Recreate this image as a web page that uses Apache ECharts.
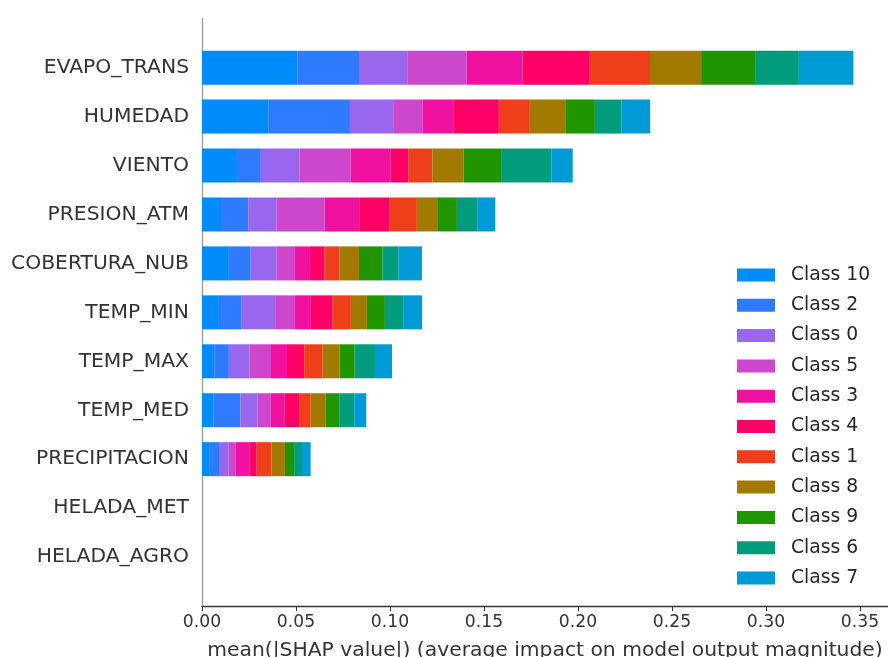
<!DOCTYPE html>
<html>
<head>
<meta charset="utf-8">
<script src="https://cdn.jsdelivr.net/npm/echarts@6/dist/echarts.min.js"></script>
<style>
html,body{margin:0;padding:0;background:#fff;}
#chart{width:888px;height:657px;}
</style>
</head>
<body>
<div id="chart"></div>
<script>
var features = ['EVAPO_TRANS','HUMEDAD','VIENTO','PRESION_ATM','COBERTURA_NUB','TEMP_MIN','TEMP_MAX','TEMP_MED','PRECIPITACION','HELADA_MET','HELADA_AGRO'];
var classNames = ['Class 10','Class 2','Class 0','Class 5','Class 3','Class 4','Class 1','Class 8','Class 9','Class 6','Class 7'];
var classColors = ['#008bfb','#2f7bff','#9966ee','#cc47cc','#f111a0','#ff0066','#ef3e1a','#a37a00','#1f9600','#009c7c','#009ad6'];
var class10 = [0.0509, 0.0355, 0.0186, 0.0101, 0.0143, 0.0090, 0.0065, 0.0060, 0.0042, 0, 0];
var class2  = [0.0326, 0.0432, 0.0127, 0.0145, 0.0116, 0.0121, 0.0078, 0.0145, 0.0053, 0, 0];
var class0  = [0.0260, 0.0234, 0.0207, 0.0151, 0.0138, 0.0182, 0.0110, 0.0091, 0.0047, 0, 0];
var class5  = [0.0313, 0.0152, 0.0271, 0.0255, 0.0097, 0.0101, 0.0114, 0.0070, 0.0038, 0, 0];
var class3  = [0.0297, 0.0165, 0.0212, 0.0188, 0.0080, 0.0085, 0.0085, 0.0074, 0.0073, 0, 0];
var class4  = [0.0358, 0.0241, 0.0096, 0.0158, 0.0078, 0.0116, 0.0092, 0.0080, 0.0038, 0, 0];
var class1  = [0.0320, 0.0165, 0.0127, 0.0145, 0.0080, 0.0097, 0.0098, 0.0058, 0.0078, 0, 0];
var class8  = [0.0272, 0.0192, 0.0165, 0.0108, 0.0103, 0.0085, 0.0090, 0.0080, 0.0072, 0, 0];
var class9  = [0.0287, 0.0154, 0.0204, 0.0105, 0.0125, 0.0096, 0.0080, 0.0072, 0.0049, 0, 0];
var class6  = [0.0233, 0.0142, 0.0263, 0.0108, 0.0085, 0.0097, 0.0108, 0.0080, 0.0042, 0, 0];
var class7  = [0.0290, 0.0152, 0.0114, 0.0096, 0.0125, 0.0101, 0.0091, 0.0064, 0.0046, 0, 0];
var xTicks = [0, 0.05, 0.10, 0.15, 0.20, 0.25, 0.30, 0.35];
var xLabel = 'mean(|SHAP value|) (average impact on model output magnitude)';

var classValues = [class10, class2, class0, class5, class3, class4, class1, class8, class9, class6, class7];
var cats = [''].concat(features).concat(['']);
var FONT = 'DejaVu Sans';

var series = classNames.map(function (name, i) {
  return {
    name: name,
    type: 'bar',
    stack: 'total',
    barWidth: 34,
    itemStyle: { color: classColors[i] },
    emphasis: { disabled: true },
    data: ['-'].concat(classValues[i]).concat(['-'])
  };
});

var chart = echarts.init(document.getElementById('chart'), null, { renderer: 'canvas' });
chart.setOption({
  animation: false,
  backgroundColor: '#fff',
  grid: { left: 202, right: 0, top: 18.7, bottom: 51, containLabel: false, outerBoundsMode: 'none' },
  legend: {
    orient: 'vertical',
    left: 737,
    top: 265,
    padding: 0,
    itemWidth: 38,
    itemHeight: 13,
    itemGap: 10.3,
    icon: 'rect',
    data: classNames,
    textStyle: { fontFamily: FONT, fontSize: 18.75, color: '#262626', lineHeight: 20, padding: [0, 0, 0, 11] }
  },
  xAxis: {
    type: 'value',
    min: 0,
    max: 0.3649,
    interval: 0.05,
    splitLine: { show: false },
    axisLine: { show: true, lineStyle: { color: '#333', width: 1.3 } },
    axisTick: { show: true, length: 5, lineStyle: { color: '#333' } },
    axisLabel: {
      fontFamily: FONT, fontSize: 17.2, color: '#333', margin: 8, showMaxLabel: false,
      formatter: function (v) {
        for (var k = 0; k < xTicks.length; k++) {
          if (Math.abs(v - xTicks[k]) < 1e-6) return xTicks[k].toFixed(2);
        }
        return '';
      }
    },
    name: xLabel,
    nameLocation: 'middle',
    nameGap: 35,
    nameTextStyle: { fontFamily: FONT, fontSize: 20.3, color: '#333' }
  },
  yAxis: {
    type: 'category',
    inverse: true,
    boundaryGap: false,
    data: cats,
    axisLine: { show: true, lineStyle: { color: '#999', width: 1.3 } },
    axisTick: { show: false },
    splitLine: { show: false },
    axisLabel: { fontFamily: FONT, fontSize: 20.3, color: '#333', margin: 13, interval: 0 }
  },
  series: series
});
</script>
</body>
</html>
